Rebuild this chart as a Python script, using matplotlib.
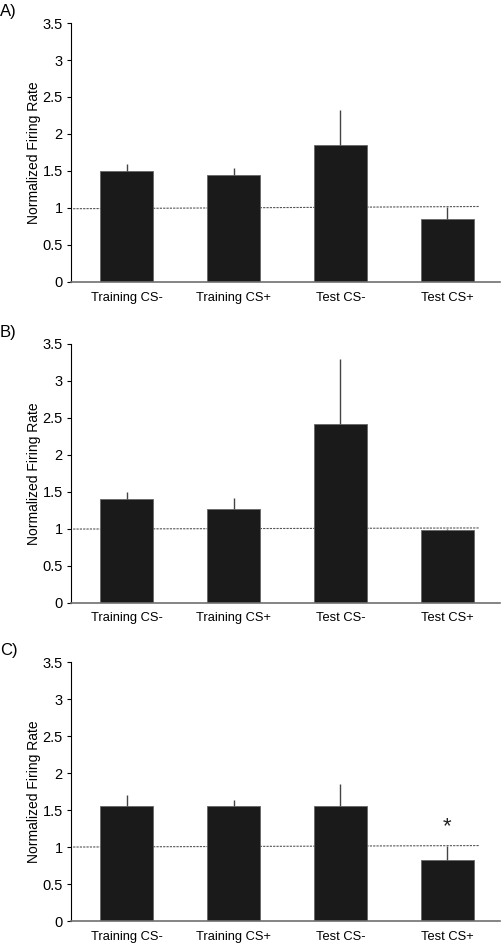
import matplotlib.pyplot as plt

plt.rcParams['font.family'] = ['Liberation Sans', 'DejaVu Sans']

categories = ["Training CS-", "Training CS+", "Test CS-", "Test CS+"]

# bar heights and upper error bar tops, per panel
means_a = [1.50, 1.44, 1.85, 0.855]
tops_a = [1.60, 1.54, 2.32, 1.01]
means_b = [1.40, 1.27, 2.415, 0.98]
tops_b = [1.50, 1.42, 3.29, 0.99]
means_c = [1.556, 1.55, 1.556, 0.82]
tops_c = [1.70, 1.63, 1.85, 1.01]

# dashed reference line at 1 (left end, right end)
ref_a = [0.99, 1.02]
ref_b = [0.995, 1.01]
ref_c = [1.0, 1.02]

panels = [("A)", means_a, tops_a, ref_a, None),
          ("B)", means_b, tops_b, ref_b, None),
          ("C)", means_c, tops_c, ref_c, (3, 1.27))]

fig = plt.figure(figsize=(5.01, 9.43), dpi=100)
bottoms = [0.7010, 0.3609, 0.0233]

for (label, means, tops, ref, star), b in zip(panels, bottoms):
    ax = fig.add_axes([0.1417, b, 0.856, 0.2746])
    x = range(len(categories))
    err_up = [t - m for t, m in zip(tops, means)]
    err_lo = [0] * len(means)
    ax.plot([-0.5, 3.3], ref, color="#555555", lw=0.8, dashes=(2, 1), zorder=1)
    ax.bar(x, means, width=0.5, color="#1a1a1a", edgecolor="#666666",
           linewidth=0.6, zorder=2)
    ax.errorbar(x, means, yerr=[err_lo, err_up], fmt="none", ecolor="#444444",
                elinewidth=1, capsize=0, zorder=3)
    if star:
        ax.text(star[0], star[1], "*", ha="center", va="center", fontsize=16,
                color="#222222")
    ax.set_xlim(-0.52, 3.49)
    ax.set_ylim(0, 3.5)
    ax.set_yticks([0, 0.5, 1, 1.5, 2, 2.5, 3, 3.5])
    ax.set_yticklabels(["0", "0.5", "1", "1.5", "2", "2.5", "3", "3.5"])
    ax.set_xticks(list(x))
    ax.set_xticklabels(categories)
    ax.tick_params(axis="x", length=0, pad=7, labelsize=9.3)
    ax.tick_params(axis="y", length=3, width=0.8, pad=3, labelsize=10.5)
    ax.spines["top"].set_visible(False)
    ax.spines["right"].set_visible(False)
    ax.spines["bottom"].set_color("#707070")
    ax.spines["bottom"].set_linewidth(1.2)
    ax.spines["left"].set_linewidth(0.8)
    ax.set_ylabel("Normalized Firing Rate", fontsize=10, labelpad=1)
    fig.text(0.0, b + 0.2746 + 0.012, label, fontsize=12, va="center", ha="left")

plt.savefig("out.png", dpi=100)
